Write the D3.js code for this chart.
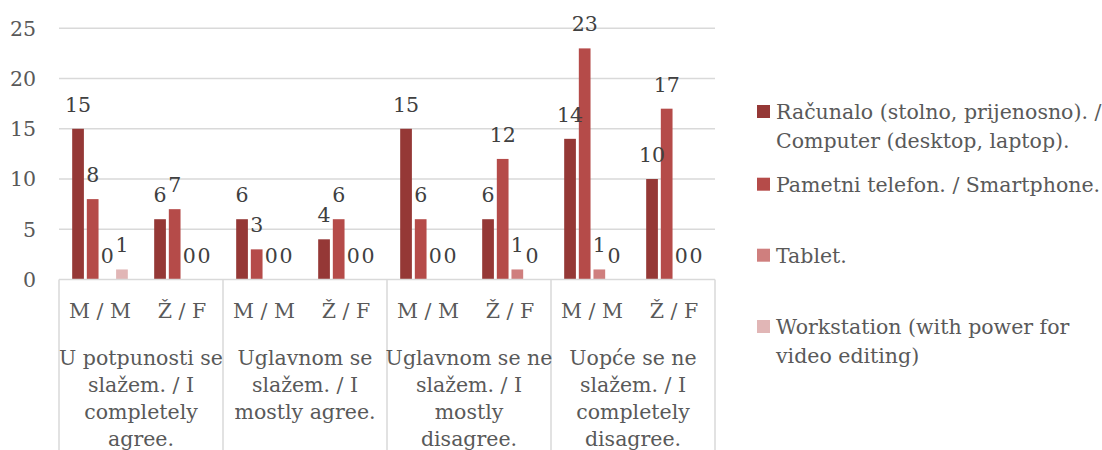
<!DOCTYPE html>
<html>
<head>
<meta charset="utf-8">
<script src="https://cdn.jsdelivr.net/npm/d3@7"></script>
<style>
  html, body { margin: 0; padding: 0; background: #ffffff; }
  svg { display: block; }
  text { font-family: "DejaVu Serif", "Liberation Serif", serif; }
</style>
</head>
<body>
<svg id="chart" width="1102" height="450"></svg>
<script>
// Response categories (wrapped into lines as shown under the axis)
const categories = [
  ["U potpunosti se", "slažem. / I", "completely", "agree."],
  ["Uglavnom se", "slažem. / I", "mostly agree."],
  ["Uglavnom se ne", "slažem. / I", "mostly", "disagree."],
  ["Uopće se ne", "slažem. / I", "completely", "disagree."]
];
const genders = ["M / M", "Ž / F"];

const seriesNames = [
  ["Računalo (stolno, prijenosno). /", "Computer (desktop, laptop)."],
  ["Pametni telefon. / Smartphone."],
  ["Tablet."],
  ["Workstation (with power for", "video editing)"]
];

// Values per category/gender group: [cat1 M, cat1 F, cat2 M, cat2 F, ...]
const computer    = [15, 6, 6, 4, 15, 6, 14, 10];
const smartphone  = [8, 7, 3, 6, 6, 12, 23, 17];
const tablet      = [0, 0, 0, 0, 0, 1, 1, 0];
const workstation = [1, 0, 0, 0, 0, 0, 0, 0];

const yTicks = [0, 5, 10, 15, 20, 25];
const colors = ["#953836", "#b54b49", "#cf7f7e", "#e1b6b6"];

const series = [computer, smartphone, tablet, workstation];

const FS = 20.5;

const svg = d3.select("#chart");
svg.append("rect").attr("width", 1102).attr("height", 450).attr("fill", "#ffffff");

const plot = { left: 59, right: 715, top: 28.3, bottom: 279.5 };

const groups = [];
categories.forEach((c, ci) => genders.forEach((g, gi) => groups.push(ci * 2 + gi)));

const x0 = d3.scaleBand().domain(groups).range([plot.left, plot.right]).padding(0);
const xCat = d3.scaleBand().domain(d3.range(categories.length)).range([plot.left, plot.right]).padding(0);
const x1 = d3.scaleBand().domain(d3.range(series.length)).range([0, x0.bandwidth()])
  .paddingInner(0.2).paddingOuter(0.9);
const y = d3.scaleLinear().domain([0, 25]).range([plot.bottom, plot.top]);

// Horizontal gridlines
svg.append("g")
  .selectAll("line")
  .data(yTicks.filter(t => t > 0))
  .join("line")
  .attr("x1", plot.left).attr("x2", plot.right)
  .attr("y1", d => y(d)).attr("y2", d => y(d))
  .attr("stroke", "#d9d9d9").attr("stroke-width", 1.5);

// Y-axis tick labels
svg.append("g")
  .selectAll("text")
  .data(yTicks)
  .join("text")
  .attr("x", 36)
  .attr("y", d => y(d))
  .attr("dy", "0.36em")
  .attr("text-anchor", "end")
  .attr("font-size", FS)
  .attr("fill", "#595959")
  .text(d => d);

// Bars
const barG = svg.append("g");
series.forEach((vals, si) => {
  barG.selectAll(null)
    .data(vals.map((v, gi) => ({ v, gi })))
    .join("rect")
    .attr("x", d => x0(d.gi) + x1(si))
    .attr("width", x1.bandwidth())
    .attr("y", d => y(d.v))
    .attr("height", d => y(0) - y(d.v))
    .attr("fill", colors[si]);
});

// Data labels
const labG = svg.append("g");
series.forEach((vals, si) => {
  labG.selectAll(null)
    .data(vals.map((v, gi) => ({ v, gi })))
    .join("text")
    .attr("x", d => x0(d.gi) + x1(si) + x1.bandwidth() / 2)
    .attr("y", d => y(d.v) - 17)
    .attr("text-anchor", "middle")
    .attr("font-size", FS)
    .attr("fill", "#404040")
    .text(d => d.v);
});

// Category axis line and separators
svg.append("line")
  .attr("x1", plot.left).attr("x2", plot.right)
  .attr("y1", y(0)).attr("y2", y(0))
  .attr("stroke", "#d9d9d9").attr("stroke-width", 1.5);

const seps = d3.range(categories.length + 1).map(i =>
  i < categories.length ? xCat(i) : xCat(i - 1) + xCat.bandwidth());
svg.append("g")
  .selectAll("line")
  .data(seps)
  .join("line")
  .attr("x1", d => d).attr("x2", d => d)
  .attr("y1", y(0)).attr("y2", 450)
  .attr("stroke", "#d9d9d9").attr("stroke-width", 1.5);

// Gender labels
svg.append("g")
  .selectAll("text")
  .data(groups)
  .join("text")
  .attr("x", d => x0(d) + x0.bandwidth() / 2)
  .attr("y", 318)
  .attr("text-anchor", "middle")
  .attr("font-size", FS)
  .attr("fill", "#595959")
  .text(d => genders[d % 2]);

// Category labels
const catG = svg.append("g");
categories.forEach((lines, ci) => {
  catG.append("text")
    .attr("text-anchor", "middle")
    .attr("font-size", FS)
    .attr("fill", "#595959")
    .selectAll("tspan")
    .data(lines)
    .join("tspan")
    .attr("x", xCat(ci) + xCat.bandwidth() / 2)
    .attr("y", (d, i) => 365 + i * 27)
    .text(d => d);
});

// Legend
const legBase = [119, 191.7, 262.7, 334];
const leg = svg.append("g");
seriesNames.forEach((lines, si) => {
  leg.append("rect")
    .attr("x", 757).attr("y", legBase[si] - 14)
    .attr("width", 13).attr("height", 13)
    .attr("fill", colors[si]);
  leg.append("text")
    .attr("font-size", FS)
    .attr("fill", "#595959")
    .selectAll("tspan")
    .data(lines)
    .join("tspan")
    .attr("x", 776)
    .attr("y", (d, i) => legBase[si] + i * 29)
    .text(d => d);
});
</script>
</body>
</html>
